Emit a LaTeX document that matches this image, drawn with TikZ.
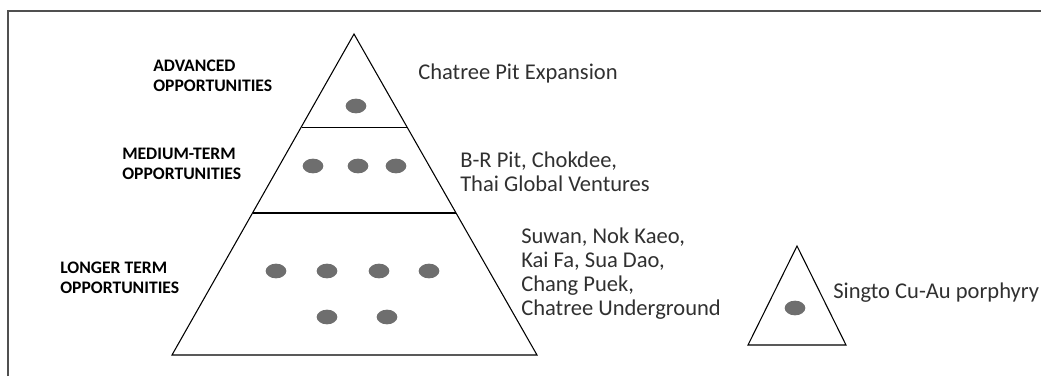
\documentclass[tikz,border=0pt]{standalone}
\usepackage{fontspec}
\setmainfont{Carlito}
\usetikzlibrary{positioning, shapes.geometric}
\definecolor{dotgray}{HTML}{6E6E6E}
\definecolor{framegray}{HTML}{505050}
\definecolor{textgray}{HTML}{303030}

\begin{document}
\begin{tikzpicture}[x=0.75pt, y=-0.75pt,
    dot/.style={fill=dotgray, ellipse, minimum width=15.5pt, minimum height=11pt, inner sep=0pt},
    tier/.style={inner sep=0pt, anchor=west, align=left, font=\bfseries\fontsize{13.2}{15.4}\selectfont},
    item/.style={inner sep=0pt, align=left, text=textgray, font=\fontsize{16.9}{18}\selectfont}]

   \useasboundingbox (0,0) rectangle (1041,376);
   \draw[framegray, line width=1.2pt] (8,376) -- (8,11) -- (1041,11);

   % main pyramid
   \coordinate (top) at (354,34);
   \coordinate (bl) at (172,355);
   \coordinate (br) at (537,355);
   \draw[line width=0.8pt] (top) -- (bl) -- (br) -- cycle;
   \draw[line width=0.8pt] (302,127.5) -- (407,127.5);
   \draw[line width=0.8pt] (253,213) -- (456,213);

   % small pyramid
   \coordinate (stop) at (797,246);
   \coordinate (sbl) at (748,345);
   \coordinate (sbr) at (846,345);
   \draw[line width=0.8pt] (stop) -- (sbl) -- (sbr) -- cycle;

   % dots
   \node[dot] (a1) at (356,106) {};
   \node[dot] (m1) at (313,166) {};
   \node[dot] (m2) at (358,166) {};
   \node[dot] (m3) at (396,166) {};
   \node[dot] (l1) at (276,271) {};
   \node[dot] (l2) at (327,271) {};
   \node[dot] (l3) at (379,271) {};
   \node[dot] (l4) at (429,271) {};
   \node[dot] (l5) at (327,317) {};
   \node[dot] (l6) at (387,317) {};
   \node[dot] (s1) at (795,308) {};

   % tier labels
   \node[tier] (adv) at (153,76) {ADVANCED\\OPPORTUNITIES};
   \node[tier] (med) at (122,164) {MEDIUM-TERM\\OPPORTUNITIES};
   \node[tier] (lng) at (60,278) {LONGER TERM\\OPPORTUNITIES};

   % projects
   \node[item, anchor=base west] (chp) at (418,79) {Chatree Pit Expansion};
   \node[item, anchor=west] (brp) at (460,172) {B-R Pit, Chokdee,\\Thai Global Ventures};
   \node[item, anchor=west] (suw) at (521,274) {Suwan, Nok Kaeo,\\Kai Fa, Sua Dao,\\Chang Puek,\\Chatree Underground};
   \node[item, anchor=base west] (sgt) at (833,298) {Singto Cu-Au porphyry};

\end{tikzpicture}
\end{document}
